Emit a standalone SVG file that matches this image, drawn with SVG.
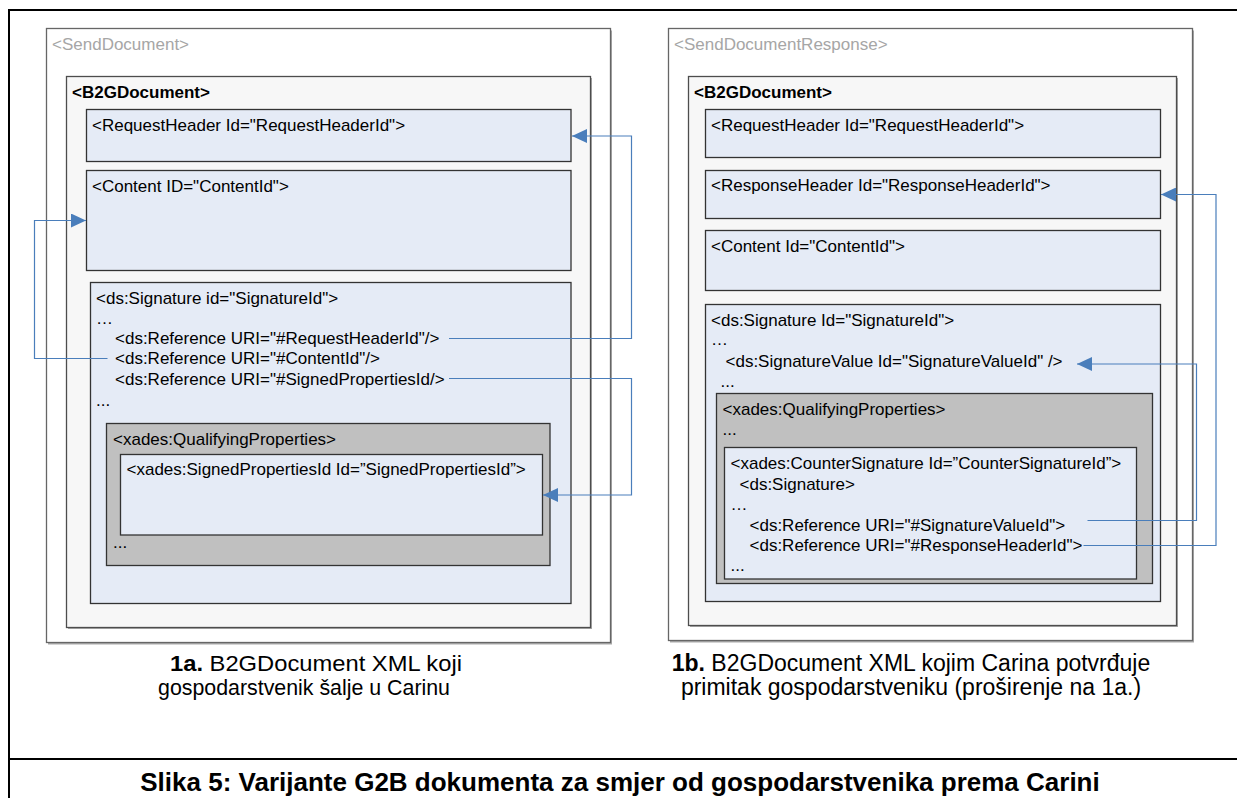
<svg xmlns="http://www.w3.org/2000/svg" width="1237" height="798" viewBox="0 0 1237 798">
<defs>
<style>
.t{font-family:"Liberation Sans",Arial,Helvetica,sans-serif;font-size:17px;fill:#000}
.b{font-weight:bold}
.hdr{fill:#a6a6a6}
.cap{font-size:23px;text-anchor:middle}
.capl{font-size:22.5px}
.title{font-size:26px;font-weight:bold;text-anchor:middle}
.frame{fill:none;stroke:#000;stroke-width:2}
.outer{fill:#fff;stroke:#666;stroke-width:1.3}
.doc{fill:#f7f7f7;stroke:#4d4d4d;stroke-width:1.3}
.blue{fill:#e5ebf6;stroke:#333;stroke-width:1.3}
.grey{fill:#c0c0c0;stroke:#333;stroke-width:1.3}
.sh{fill:#a9a9a9}
.conn{fill:none;stroke:#4a7ebb;stroke-width:1.2}
</style>
<marker id="arr" markerWidth="15" markerHeight="14" refX="15" refY="7" orient="auto" markerUnits="userSpaceOnUse">
<path d="M0,0 L15,7 L0,14 z" fill="#4a7ebb"/>
</marker>
</defs>
<rect x="0" y="0" width="1237" height="798" fill="#fff"/>
<g id="frame">
<path class="frame" d="M9,798 V10 H1237"/>
<path class="frame" d="M9,759 H1237"/>
</g>

<!-- Left panel -->
<g id="send-document">
<rect class="sh" x="48" y="30.5" width="564" height="614"/>
<rect class="outer" x="46.5" y="28.5" width="564" height="614"/>
<text class="t hdr" x="52" y="50">&lt;SendDocument&gt;</text>
</g>
<g id="b2g-document-left">
<rect class="sh" x="68" y="78" width="524" height="551"/>
<rect class="doc" x="66.5" y="76.5" width="524" height="551"/>
<text class="t b" x="72" y="98">&lt;B2GDocument&gt;</text>
</g>
<g id="request-header-left">
<rect class="blue" x="86.5" y="109.5" width="484.5" height="52"/>
<text class="t" x="92" y="131">&lt;RequestHeader Id="RequestHeaderId"&gt;</text>
</g>
<g id="content-left">
<rect class="blue" x="86.5" y="170.5" width="484.5" height="100"/>
<text class="t" x="92" y="192">&lt;Content ID="ContentId"&gt;</text>
</g>
<g id="signature-left">
<rect class="blue" x="90.5" y="282.5" width="480.5" height="321"/>
<text class="t" x="96" y="304">&lt;ds:Signature id="SignatureId"&gt;</text>
<text class="t" x="96" y="324">…</text>
<text class="t" x="115" y="344">&lt;ds:Reference URI="#RequestHeaderId"/&gt;</text>
<text class="t" x="115" y="364">&lt;ds:Reference URI="#ContentId"/&gt;</text>
<text class="t" x="115" y="385">&lt;ds:Reference URI="#SignedPropertiesId/&gt;</text>
<text class="t" x="96" y="406">...</text>
</g>
<g id="qualifying-left">
<rect class="grey" x="106.5" y="423.5" width="443.5" height="142"/>
<text class="t" x="113" y="445">&lt;xades:QualifyingProperties&gt;</text>
<text class="t" x="113" y="548">...</text>
</g>
<g id="signed-properties">
<rect class="blue" x="120.5" y="454.5" width="422" height="80.5"/>
<text class="t" x="126.5" y="475">&lt;xades:SignedPropertiesId Id=”SignedPropertiesId”&gt;</text>
</g>

<!-- Right panel -->
<g id="send-document-response">
<rect class="sh" x="670" y="30.5" width="524" height="612"/>
<rect class="outer" x="668.5" y="28.5" width="524" height="612"/>
<text class="t hdr" x="674" y="50">&lt;SendDocumentResponse&gt;</text>
</g>
<g id="b2g-document-right">
<rect class="sh" x="690" y="78" width="488" height="549"/>
<rect class="doc" x="688.5" y="76.5" width="488" height="549"/>
<text class="t b" x="694" y="98">&lt;B2GDocument&gt;</text>
</g>
<g id="request-header-right">
<rect class="blue" x="705.5" y="109.5" width="455" height="48"/>
<text class="t" x="711" y="131">&lt;RequestHeader Id="RequestHeaderId"&gt;</text>
</g>
<g id="response-header">
<rect class="blue" x="705.5" y="170.5" width="455" height="48"/>
<text class="t" x="711" y="191">&lt;ResponseHeader Id="ResponseHeaderId"&gt;</text>
</g>
<g id="content-right">
<rect class="blue" x="705.5" y="230.5" width="455" height="60"/>
<text class="t" x="711" y="252">&lt;Content Id="ContentId"&gt;</text>
</g>
<g id="signature-right">
<rect class="blue" x="705.5" y="304.5" width="455" height="297"/>
<text class="t" x="711" y="326">&lt;ds:Signature Id="SignatureId"&gt;</text>
<text class="t" x="711" y="345">…</text>
<text class="t" x="725.5" y="367">&lt;ds:SignatureValue Id="SignatureValueId" /&gt;</text>
<text class="t" x="720.5" y="387">...</text>
</g>
<g id="qualifying-right">
<rect class="grey" x="716.5" y="393.5" width="436" height="190"/>
<text class="t" x="722.5" y="415">&lt;xades:QualifyingProperties&gt;</text>
<text class="t" x="722.5" y="435">...</text>
</g>
<g id="counter-signature">
<rect class="blue" x="724.5" y="447.5" width="412" height="131.5"/>
<text class="t" x="730.5" y="469">&lt;xades:CounterSignature Id=”CounterSignatureId”&gt;</text>
<text class="t" x="739.5" y="490">&lt;ds:Signature&gt;</text>
<text class="t" x="730.5" y="510">…</text>
<text class="t" x="749.5" y="531">&lt;ds:Reference URI="#SignatureValueId"&gt;</text>
<text class="t" x="749.5" y="551">&lt;ds:Reference URI="#ResponseHeaderId"&gt;</text>
<text class="t" x="730.5" y="571">...</text>
</g>

<g id="connectors">
<path class="conn" d="M449,338.5 H631.5 V136 H572" marker-end="url(#arr)"/>
<path class="conn" d="M107.5,358.5 H34.5 V220.5 H86" marker-end="url(#arr)"/>
<path class="conn" d="M449,378.5 H631.5 V495 H543" marker-end="url(#arr)"/>
<path class="conn" d="M1083.5,545.5 H1216 V194.5 H1161" marker-end="url(#arr)"/>
<path class="conn" d="M1087.5,520.5 H1196.5 V364 H1077" marker-end="url(#arr)"/>
</g>

<g id="captions">
<text class="t capl" x="170" y="671" textLength="292" lengthAdjust="spacingAndGlyphs"><tspan class="b">1a.</tspan> B2GDocument XML koji</text>
<text class="t capl" x="158" y="695" textLength="292" lengthAdjust="spacingAndGlyphs">gospodarstvenik šalje u Carinu</text>
<text class="t cap" x="911" y="671"><tspan class="b">1b.</tspan> B2GDocument XML kojim Carina potvrđuje</text>
<text class="t cap" x="911" y="695">primitak gospodarstveniku (proširenje na 1a.)</text>
<text class="t title" x="620" y="791">Slika 5: Varijante G2B dokumenta za smjer od gospodarstvenika prema Carini</text>
</g>
</svg>
